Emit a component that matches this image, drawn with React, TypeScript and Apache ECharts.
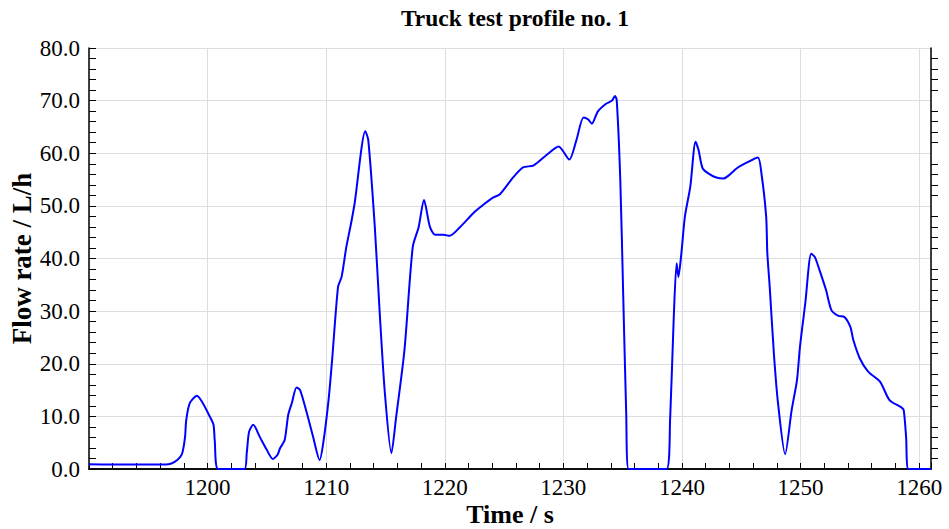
import React, { useEffect, useRef } from "react";
import * as echarts from "echarts";

const timeS: number[] = [
  1190, 1192, 1194, 1196, 1196.7, 1197.25, 1197.7, 1197.9, 1198.1, 1198.2, 1198.5, 1199.1,
  1199.6, 1200.2, 1200.5, 1200.6, 1200.9, 1203.1, 1203.3, 1203.5, 1203.85, 1204.4, 1205.0,
  1205.5, 1205.9, 1206.1, 1206.5, 1206.8, 1207.1, 1207.5, 1207.8, 1208.3, 1208.9, 1209.45,
  1209.75, 1210.2, 1210.5, 1211.0, 1211.3, 1211.7, 1212.1, 1212.4, 1213.3, 1213.55, 1214.1,
  1214.5, 1214.95, 1215.5, 1215.9, 1216.6, 1217.3, 1217.8, 1218.25, 1218.75, 1219.2, 1219.9,
  1220.4, 1221.3, 1222.4, 1223.25, 1224.1, 1224.65, 1225.8, 1226.6, 1227.5, 1228.6, 1229.6,
  1230.5, 1231.1, 1231.7, 1232.1, 1232.4, 1232.9, 1233.6, 1234.1, 1234.35, 1234.5, 1234.8,
  1235.05, 1235.3, 1235.5, 1238.7, 1239.0, 1239.3, 1239.55, 1239.7, 1239.95, 1240.25, 1240.7,
  1241.15, 1241.4, 1241.75, 1242.35, 1242.9, 1243.5, 1243.9, 1244.6, 1245.45, 1246.4, 1246.7,
  1247.1, 1247.2, 1247.4, 1247.75, 1248.1, 1248.7, 1249.25, 1249.7, 1249.95, 1250.4, 1250.9,
  1251.2, 1251.6, 1252.15, 1252.6, 1253.2, 1253.7, 1254.2, 1254.45, 1255.0, 1255.7, 1256.7,
  1257.5, 1258.5, 1258.7, 1258.9, 1259.1, 1261
];

const flowLh: number[] = [
  0.9, 0.85, 0.85, 0.85, 0.9, 1.4, 2.3, 3.3, 6.1, 9.3, 12.5, 13.9,
  12.5, 9.9, 8.4, 5.5, 0, 0, 3.0, 7.1, 8.4, 6.1, 3.6,
  1.9, 2.7, 3.9, 5.5, 10.3, 12.5, 15.5, 15.0, 11.2, 6.1, 1.7,
  4.9, 13.1, 20.7, 34.6, 36.5, 42.2, 46.7, 50.5, 64.2, 62.5, 46.0,
  30.2, 14.4, 3.0, 9.9, 22.6, 42.2, 46.0, 51.1, 46.0, 44.5, 44.5,
  44.3, 46.0, 48.6, 50.2, 51.6, 52.2, 55.5, 57.3, 57.7, 59.7, 61.3,
  58.8, 62.5, 66.8, 66.4, 65.6, 67.9, 69.4, 70.0, 70.9, 70.1, 54.9,
  32.7, 10.6, 0, 0, 9.3, 28.3, 39.1, 36.5, 41.0, 48.0, 53.6,
  62.2, 60.6, 57.1, 56.0, 55.4, 55.2, 55.7, 57.1, 58.2, 59.2, 56.2,
  48.0, 41.0, 34.6, 22.0, 12.5, 2.8, 11.2, 16.9, 23.2, 31.5, 40.9,
  40.3, 37.8, 34.0, 30.2, 29.1, 28.9, 27.0, 24.5, 21.0, 18.5, 16.6,
  13.1, 11.7, 11.2, 6.1, 0, 0
];

const titleText = "Truck test profile no. 1";
const xName = "Time / s";
const yName = "Flow rate / L/h";

export default function App() {
  const ref = useRef<HTMLDivElement>(null);
  useEffect(() => {
    if (!ref.current) return;
    const chart = echarts.init(ref.current, null, { renderer: "svg" });
    const font = "'Liberation Serif', 'Times New Roman', serif";
    const axisLine = { show: true, lineStyle: { color: "#000", width: 1.5 } };
    const tickStyle = { color: "#000", width: 1 };
    chart.setOption({
      animation: false,
      backgroundColor: "#fff",
      title: {
        text: titleText,
        left: 510,
        textAlign: "center",
        top: 1,
        textStyle: { fontFamily: font, fontSize: 23.5, fontWeight: "bold", color: "#000" },
      },
      grid: { left: 89, right: 18, top: 48, bottom: 60, outerBoundsMode: "none", containLabel: false },
      xAxis: [
        {
          type: "value",
          min: 1190,
          max: 1261,
          interval: 10,
          position: "bottom",
          name: xName,
          nameLocation: "middle",
          nameGap: 31,
          nameMoveOverlap: false,
          nameTextStyle: { fontFamily: font, fontSize: 26, fontWeight: "bold", color: "#000", lineHeight: 28 },
          axisLine,
          axisTick: { show: true, inside: true, length: 6, lineStyle: tickStyle },
          minorTick: { show: true, splitNumber: 5, length: 6, lineStyle: tickStyle },
          axisLabel: {
            fontFamily: font,
            fontSize: 23,
            color: "#000",
            margin: 7,
            formatter: (v: number) => (v === 1190 ? "" : String(v)),
          },
          splitLine: { show: true, lineStyle: { color: "#dddddd", width: 1 } },
        },
        {
          type: "value",
          min: 1190,
          max: 1261,
          interval: 10,
          position: "top",
          axisLine,
          axisTick: { show: false },
          minorTick: { show: true, splitNumber: 5, length: 6, lineStyle: tickStyle },
          axisLabel: { show: false },
          splitLine: { show: false },
        },
      ],
      yAxis: [
        {
          type: "value",
          min: 0,
          max: 80,
          interval: 10,
          position: "left",
          name: yName,
          nameLocation: "middle",
          nameGap: 54,
          nameMoveOverlap: false,
          nameTextStyle: { fontFamily: font, fontSize: 27, fontWeight: "bold", color: "#000" },
          axisLine,
          axisTick: { show: true, inside: true, length: 7, lineStyle: tickStyle },
          minorTick: { show: true, splitNumber: 5, length: 7, lineStyle: tickStyle },
          axisLabel: {
            fontFamily: font,
            fontSize: 23,
            color: "#000",
            margin: 9,
            formatter: (v: number) => v.toFixed(1),
          },
          splitLine: { show: true, lineStyle: { color: "#dddddd", width: 1 } },
        },
        {
          type: "value",
          min: 0,
          max: 80,
          interval: 10,
          position: "right",
          axisLine,
          axisTick: { show: false },
          minorTick: { show: true, splitNumber: 5, length: 7, lineStyle: tickStyle },
          axisLabel: { show: false },
          splitLine: { show: false },
        },
      ],
      series: [
        {
          type: "line",
          xAxisIndex: 0,
          yAxisIndex: 0,
          data: timeS.map((t, i) => [t, flowLh[i]]),
          showSymbol: false,
          smooth: 0.25,
          lineStyle: { color: "#0000ff", width: 2 },
        },
      ],
    });
    return () => chart.dispose();
  }, []);
  return <div ref={ref} style={{ width: 949, height: 529, position: "absolute", left: 0, top: 0 }} />;
}
